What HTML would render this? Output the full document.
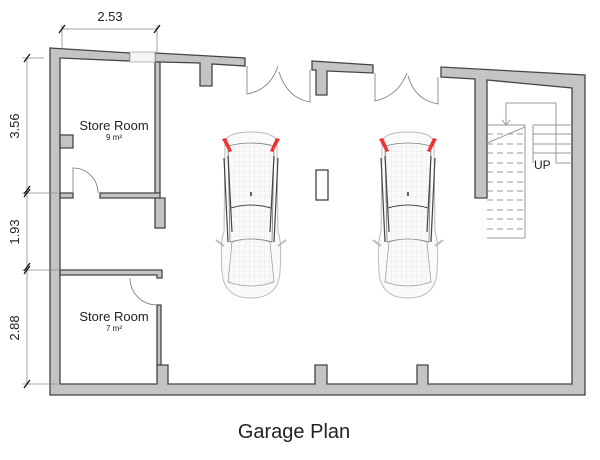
<!DOCTYPE html>
<html><head><style>body{margin:0;background:#fff}svg{display:block}</style></head><body>
<svg width="600" height="460" viewBox="0 0 600 460" xmlns="http://www.w3.org/2000/svg" font-family="Liberation Sans, sans-serif">
<defs>
<pattern id="g" width="5" height="5" patternUnits="userSpaceOnUse"><path d="M5 0V5M0 5H5" stroke="#ddd" stroke-width="0.6" fill="none"/></pattern>
<g id="car">
<path d="M5 12 Q5 0 31 0 Q57 0 57 12 L58 100 Q62 108 60 140 Q58 166 31 166 Q4 166 2 140 Q0 108 4 100 Z" fill="#fafafa" stroke="#bbb" stroke-width="1"/>
<path d="M8 14 Q31 8 54 14 L52 110 Q31 104 10 110 Z" fill="url(#g)" stroke="#777" stroke-width="0.8"/>
<path d="M12 110 Q31 104 50 110 L54 150 Q31 158 8 150 Z" fill="url(#g)" stroke="#999" stroke-width="0.7"/>
<path d="M8 24 L12 100 M54 24 L50 100 M4 26 L8 110 M58 26 L54 110" stroke="#444" stroke-width="1.2" fill="none"/>
<path d="M11 76 Q31 70 51 76" stroke="#444" fill="none"/>
<path d="M2 7 L9 20 L12 19 L6 6 Z M60 7 L53 20 L50 19 L56 6 Z" fill="#e33"/>
<path d="M-4 108 L4 114 M66 108 L58 114" stroke="#bbb" stroke-width="2"/>
<line x1="31" y1="60" x2="31" y2="64" stroke="#333" stroke-width="1.5"/>
</g>
</defs>
<g fill="#c4c4c4" stroke="#444" stroke-width="1.3">
<!-- outer left + bottom + right -->
<path d="M50 48 L130 53 L130 61 L60 58 L60 384 L157 384 L157 365 L168 365 L168 384 L315 384 L315 365 L327 365 L327 384 L417 384 L417 365 L428 365 L428 384 L572 384 L572 88 L487 80 L487 198 L475 198 L475 79 L441 77 L441 67 L585 75 L585 395 L50 395 Z"/>
<path d="M155 53 L245 58 L245 66 L212 64 L212 86 L200 86 L200 63 L160 62 L155 62 Z"/>
<path d="M312 61 L373 65 L373 73 L327 71 L327 95 L316 95 L316 70 L312 70 Z"/>
<!-- interior -->
<path d="M60 135 L73 135 L73 148 L60 148 Z"/>
<path d="M155 62 L160 62 L160 193 L155 193 Z"/>
<path d="M60 193 L73 193 L73 198 L60 198 Z"/>
<path d="M100 193 L160 193 L160 198 L100 198 Z"/>
<path d="M155 198 L165 198 L165 228 L155 228 Z"/>
<path d="M60 270 L162 270 L162 278 L157 278 L157 275 L60 275 Z"/>
<path d="M157 305 L161 305 L161 365 L157 365 Z"/>
</g>
<rect x="130" y="52" width="25" height="10" fill="#f4f4f4" stroke="#aaa" stroke-width="0.8"/>
<g fill="none" stroke="#777" stroke-width="0.8">
<path d="M247 66 L247 94 Q270 90 278 66"/><path d="M310 70 L310 102 Q287 98 279 72"/>
<path d="M375 73 L375 101 Q398 96 407 73"/><path d="M438 77 L438 104 Q415 100 408 76"/>
<path d="M73 193 L73 168 A25 25 0 0 1 98 193"/>
<path d="M157 305 A27 27 0 0 1 130 278"/>
</g>
<rect x="316" y="170" width="12" height="30" fill="#fff" stroke="#333" stroke-width="1.2"/>
<use href="#car" x="220" y="132"/>
<use href="#car" x="377" y="132"/>
<!-- stairs -->
<g stroke="#999" stroke-width="1" fill="none">
<path d="M487 125 H525 V238 H487"/>
<path d="M487 134 H525 M487 144 H525 M487 153 H525 M487 163 H525 M487 172 H525 M487 182 H525 M487 191 H525 M487 200 H525 M487 210 H525 M487 219 H525 M487 229 H525" stroke-dasharray="6,4"/>
<path d="M487 143 L525 127"/>
<path d="M533 125 H572 M533 134 H572 M533 144 H572 M533 153 H572 M556 163 H572 M533 125 V163"/>
<path d="M556 163 V103 H506 V125 M502 120 L506 125 L510 120"/>
</g>
<text x="534" y="169" font-size="12" fill="#222">UP</text>
<!-- dimensions -->
<g stroke="#888" stroke-width="0.8" fill="none">
<path d="M62 29 H157 M62 25 V48 M157 25 V52"/>
<path d="M27 58 V384 M22 58 H44 M22 193 H58 M22 270 H58 M22 384 H58"/>
</g>
<g stroke="#111" stroke-width="1.3">
<path d="M59 33 L65 25 M154 33 L160 25"/>
<path d="M24 62 L30 54 M24 197 L30 189 M24 194 L30 186 M24 274 L30 266 M24 271 L30 263 M24 388 L30 380"/>
</g>
<g font-size="13" fill="#222">
<text x="110" y="21" text-anchor="middle">2.53</text>
<text transform="translate(19,126) rotate(-90)" text-anchor="middle">3.56</text>
<text transform="translate(19,232) rotate(-90)" text-anchor="middle">1.93</text>
<text transform="translate(19,328) rotate(-90)" text-anchor="middle">2.88</text>
</g>
<g fill="#222" text-anchor="middle">
<text x="114" y="130" font-size="13">Store Room</text><text x="114" y="140" font-size="8">9 m²</text>
<text x="114" y="321" font-size="13">Store Room</text><text x="114" y="331" font-size="8">7 m²</text>
<text x="294" y="438" font-size="20">Garage Plan</text>
</g>
</svg>
</body></html>
